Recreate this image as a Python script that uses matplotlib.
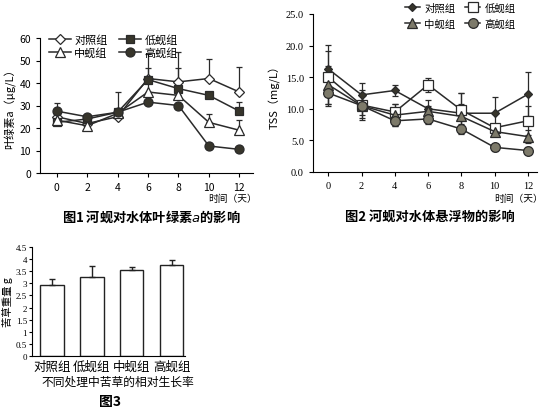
import matplotlib.pyplot as plt
from matplotlib.lines import Line2D
import numpy as np

plt.rcParams['font.family'] = ['Noto Sans CJK SC', 'DejaVu Sans']

W, H = 545, 410

# ---- data ----
days = [0, 2, 4, 6, 8, 10, 12]
groups = ['对照组', '低蚬组', '中蚬组', '高蚬组']

chl_ctrl = [25.0, 22.0, 25.0, 42.0, 40.5, 42.0, 36.0]
chl_low = [22.5, 24.0, 27.0, 41.5, 37.5, 34.5, 27.5]
chl_mid = [23.5, 21.0, 26.5, 36.0, 34.5, 22.5, 19.0]
chl_high = [27.5, 25.0, 27.0, 31.5, 30.0, 12.0, 10.5]
chl_ctrl_err = [0, 0, 0, 11.0, 13.5, 8.5, 11.0]
chl_low_err = [0, 0, 0, 0, 0, 1.5, 4.0]
chl_mid_err = [0, 0, 0, 10.5, 12.0, 3.8, 4.5]
chl_high_err = [3.8, 1.0, 9.0, 0, 0, 0, 0]

tss_ctrl = [16.3, 12.2, 12.9, 10.0, 9.3, 9.3, 12.3]
tss_low = [15.0, 10.6, 9.5, 13.8, 9.8, 7.0, 8.1]
tss_mid = [13.8, 10.5, 9.0, 9.6, 8.8, 6.4, 5.6]
tss_high = [12.5, 10.5, 8.1, 8.4, 6.8, 3.9, 3.4]
tss_ctrl_err = [3.8, 1.9, 0.8, 0.5, 3.2, 2.5, 3.5]
tss_low_err = [4.2, 2.3, 1.3, 1.1, 2.7, 0.5, 2.3]
tss_mid_err = [3.0, 2.0, 1.8, 1.8, 2.0, 0.6, 1.0]
tss_high_err = [2.0, 1.5, 0.8, 0.8, 0.8, 0.6, 0.5]

growth = [2.92, 3.25, 3.55, 3.75]
growth_err = [0.26, 0.45, 0.13, 0.23]

fig = plt.figure(figsize=(W / 100, H / 100), dpi=100)


def axes_px(left, top, right, bottom):
    return fig.add_axes([left / W, 1 - bottom / H, (right - left) / W, (bottom - top) / H])


dark = '#37352b'
gray = '#7d7a6a'
ink = '#2a2a2a'


def line_panel(ax, series, errs, styles, one_sided):
    handles = []
    for vals, err, st, name in zip(series, errs, styles, groups):
        yerr = [np.zeros(len(err)), err] if one_sided else err
        ax.errorbar(days, vals, yerr=yerr, color=ink, lw=1.1, mec=ink, mew=0.9,
                    capsize=2.2, elinewidth=0.9, **st)
        handles.append(Line2D([], [], color=ink, lw=1.1, mec=ink, mew=0.9,
                              label=name, **st))
    # row-wise order for a 2-column legend
    return [handles[0], handles[2], handles[1], handles[3]]


# ---- figure 1 ----
ax1 = axes_px(40, 39, 253, 174)
styles1 = [dict(marker='D', mfc='white', ms=5),
           dict(marker='s', mfc=dark, ms=6),
           dict(marker='^', mfc='white', ms=6.5),
           dict(marker='o', mfc=dark, ms=6.5)]
h1 = line_panel(ax1, [chl_ctrl, chl_low, chl_mid, chl_high],
                [chl_ctrl_err, chl_low_err, chl_mid_err, chl_high_err], styles1, True)
ax1.set_xlim(-1.1, 12.9)
ax1.set_ylim(0, 60)
ax1.set_xticks(days)
ax1.set_yticks(range(0, 61, 10))
ax1.tick_params(labelsize=7.5, length=3, width=0.8)
for s in ['top', 'right']:
    ax1.spines[s].set_visible(False)
ax1.set_ylabel('叶绿素a（μg/L）', fontsize=8, labelpad=2)
ax1.legend(handles=h1, loc='upper left', bbox_to_anchor=(0.02, 1.06), ncol=2,
           frameon=False, fontsize=8, handlelength=2.0, columnspacing=1.0,
           labelspacing=0.15, handletextpad=0.3, borderaxespad=0)
fig.text(233 / W, 1 - 199 / H, '时间（天）', fontsize=7, ha='center', va='center')
fig.text(151 / W, 1 - 217 / H, '图1 河蚬对水体叶绿素$a$的影响', fontsize=9.5,
         fontweight='bold', ha='center', va='center')

# ---- figure 2 ----
ax2 = axes_px(313, 15, 537, 173)
styles2 = [dict(marker='D', mfc=dark, ms=4.5),
           dict(marker='s', mfc='white', ms=7),
           dict(marker='^', mfc=gray, ms=6.5),
           dict(marker='o', mfc=gray, ms=7)]
h2 = line_panel(ax2, [tss_ctrl, tss_low, tss_mid, tss_high],
                [tss_ctrl_err, tss_low_err, tss_mid_err, tss_high_err], styles2, False)
ax2.set_xlim(-0.92, 12.55)
ax2.set_ylim(0, 25)
ax2.set_xticks(days)
ax2.set_yticks(np.arange(0, 25.1, 5))
ax2.set_yticklabels([f'{v:.1f}' for v in np.arange(0, 25.1, 5)])
ax2.tick_params(labelsize=7.5, length=3, width=0.8)
for lab in ax2.get_xticklabels() + ax2.get_yticklabels():
    lab.set_family('Liberation Serif')
for s in ['top', 'right']:
    ax2.spines[s].set_visible(False)
ax2.set_ylabel('TSS（mg/L）', fontsize=8, labelpad=4)
ax2.legend(handles=h2, loc='upper left', bbox_to_anchor=(0.39, 1.1), ncol=2,
           frameon=False, fontsize=7.5, handlelength=1.5, columnspacing=0.9,
           labelspacing=0.55, handletextpad=0.4, borderaxespad=0)
fig.text(519 / W, 1 - 199 / H, '时间（天）', fontsize=7, ha='center', va='center')
fig.text(430 / W, 1 - 217 / H, '图2 河蚬对水体悬浮物的影响', fontsize=9.5,
         fontweight='bold', ha='center', va='center')

# ---- figure 3 ----
ax3 = axes_px(32, 248, 185, 357)
x3 = np.arange(len(groups))
ax3.bar(x3, growth, width=0.58, color='white', edgecolor='#222222', lw=1.0,
        yerr=[np.zeros(len(growth)), growth_err], capsize=2.5,
        error_kw=dict(elinewidth=1.0, ecolor='#222222'))
ax3.set_xlim(-0.5, 3.33)
ax3.set_ylim(0, 4.5)
ax3.set_yticks(np.arange(0, 4.51, 0.5))
ax3.set_yticklabels(['0', '0.5', '1', '1.5', '2', '2.5', '3', '3.5', '4', '4.5'])
ax3.set_xticks(x3)
ax3.set_xticklabels(groups, fontsize=9)
ax3.tick_params(axis='y', labelsize=6.5, length=2.5, width=0.8, pad=1)
ax3.tick_params(axis='x', length=0, pad=3)
for lab in ax3.get_yticklabels():
    lab.set_family('Liberation Serif')
for s in ['top', 'right']:
    ax3.spines[s].set_visible(False)
ax3.set_ylabel('苦草重量 g', fontsize=7.5, labelpad=2)
fig.text(118 / W, 1 - 382 / H, '不同处理中苦草的相对生长率', fontsize=8.5,
         ha='center', va='center')
fig.text(110 / W, 1 - 402 / H, '图3', fontsize=10, fontweight='bold',
         ha='center', va='center')

fig.savefig('out.png', dpi=100)
